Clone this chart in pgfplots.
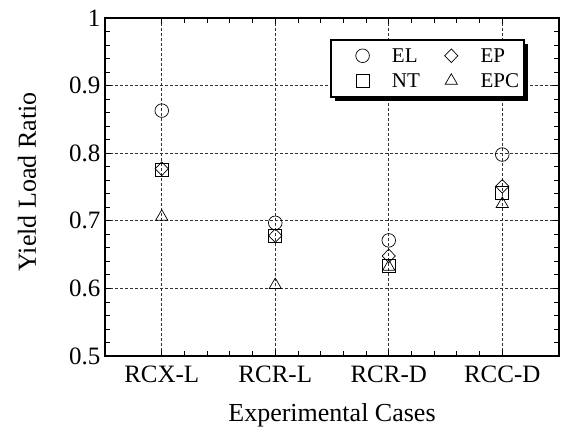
\documentclass[border=0pt]{standalone}
\usepackage{fontspec}
\setmainfont{Liberation Serif}
\usepackage{pgfplots}
\pgfplotsset{compat=1.18}
\usetikzlibrary{shadows}

\begin{document}
\begin{tikzpicture}
  \begin{axis}[
      name=ax,
      scale only axis, width=454pt, height=338pt,
      xmin=-0.5, xmax=3.5, ymin=0.5, ymax=1,
      xtick={0,1,2,3},
      xticklabels={RCX-L,RCR-L,RCR-D,RCC-D},
      ytick={0.5,0.6,0.7,0.8,0.9,1},
      minor x tick num=4, minor y tick num=4,
      tick align=inside, major tick length=6pt, minor tick length=5pt,
      xtick pos=both, ytick pos=both,
      tick style={black, line width=0.8pt},
      axis line style={line width=2.2pt},
      grid=major, grid style={black!80, dash pattern=on 3pt off 2pt, line width=0.7pt},
      /pgf/number format/assume math mode=true,
      tick label style={font=\fontsize{25}{28}\selectfont},
      xticklabel style={yshift=-6pt},
      yticklabel style={xshift=-1pt},
      xlabel={Experimental Cases}, ylabel={Yield Load Ratio},
      xlabel style={font=\fontsize{26}{30}\selectfont,
        at={(axis description cs:0.5,-0.195)}, anchor=base},
      ylabel style={font=\fontsize{26}{30}\selectfont,
        at={(axis description cs:-0.172,0.515)}, anchor=center},
      legend columns=2,
      legend cell align=left,
      legend image code/.code={%
        \draw[#1, only marks] plot coordinates {(28pt,0pt)};
        \path (0pt,0pt) (55pt,0pt);},
      legend style={at={(0.925,0.938)}, anchor=north east,
        draw=black, line width=1.6pt, fill=white,
        font=\fontsize{21}{24}\selectfont,
        drop shadow={shadow xshift=4pt, shadow yshift=-4pt, fill=black, opacity=1},
        inner xsep=3pt, inner ysep=3.5pt,
        nodes={inner xsep=2pt, inner ysep=5pt, text height=14pt, text depth=1pt},
        /tikz/every even column/.append style={column sep=1pt}},
      every axis plot/.append style={only marks, black, line width=0.7pt,
        mark options={fill=none, solid}},
    ]
    \addplot[mark=o, mark size=6.8pt] coordinates {(0,0.863) (1,0.697) (2,0.671) (3,0.798)};
    \addlegendentry{EL}
    \addplot[mark=diamond, mark size=6.8pt, mark options={xscale=1.3}] coordinates {(0,0.777) (1,0.678) (2,0.648) (3,0.751)};
    \addlegendentry{EP}
    \addplot[mark=square, mark size=6.5pt] coordinates {(0,0.775) (1,0.678) (2,0.634) (3,0.742)};
    \addlegendentry{NT}
    \addplot[mark=triangle, mark size=7pt] coordinates {(0,0.706) (1,0.605) (2,0.632) (3,0.725)};
    \addlegendentry{EPC}
  \end{axis}
  \pgfresetboundingbox
  \path[use as bounding box] ([shift={(-105pt,-75pt)}]ax.south west) rectangle ([shift={(4pt,18pt)}]ax.north east);
\end{tikzpicture}
\end{document}
